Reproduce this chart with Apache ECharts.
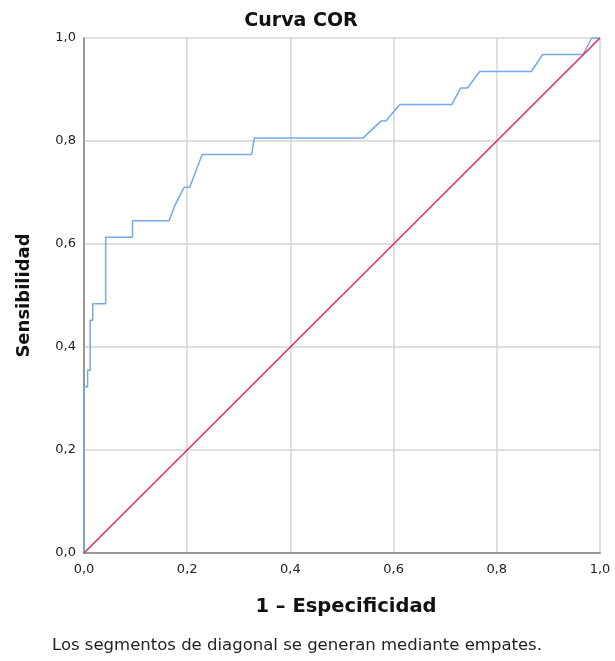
<!DOCTYPE html>
<html>
<head>
<meta charset="utf-8">
<script src="https://cdn.jsdelivr.net/npm/echarts@6/dist/echarts.min.js"></script>
<style>
  html, body { margin: 0; padding: 0; background: #fff; }
  #chart { width: 615px; height: 661px; }
</style>
</head>
<body>
<div id="chart"></div>
<script>
// 1 - especificidad (x) y sensibilidad (y)
var fpr = [0, 0, 0.007, 0.007, 0.012, 0.012, 0.017, 0.017, 0.042, 0.042, 0.094, 0.094,
  0.165, 0.177, 0.194, 0.205, 0.229, 0.325, 0.330, 0.541, 0.576, 0.585, 0.612, 0.713,
  0.730, 0.743, 0.767, 0.867, 0.889, 0.967, 0.984, 1]
var sens = [0, 0.323, 0.323, 0.355, 0.355, 0.452, 0.452, 0.484, 0.484, 0.613, 0.613, 0.645,
  0.645, 0.677, 0.710, 0.710, 0.774, 0.774, 0.806, 0.806, 0.839, 0.839, 0.871, 0.871,
  0.903, 0.903, 0.935, 0.935, 0.968, 0.968, 1, 1]
var diagonal = [[0, 0], [1, 1]]
var ticks = [0, 0.2, 0.4, 0.6, 0.8, 1]

var curve = fpr.map(function (x, i) { return [x, sens[i]] })
var fmt = function (v) { return v.toFixed(1).replace('.', ',') }

var myChart = echarts.init(document.getElementById('chart'))
myChart.setOption({
  animation: false,
  textStyle: { fontFamily: 'DejaVu Sans' },
  title: [
    {
      text: 'Curva COR',
      left: 296, top: 7, textAlign: 'center',
      textStyle: { fontSize: 19, fontWeight: 'bold', color: '#111' }
    },
    {
      text: 'Los segmentos de diagonal se generan mediante empates.',
      left: 47, top: 632,
      textStyle: { fontSize: 16.5, fontWeight: 'normal', color: '#222' }
    }
  ],
  grid: { left: 84, right: 15, top: 38, bottom: 108 },
  xAxis: {
    type: 'value', min: 0, max: 1, interval: 0.2,
    name: '1 – Especificidad', nameLocation: 'middle', nameGap: 44,
    nameTextStyle: { fontSize: 19.5, fontWeight: 'bold', color: '#111', padding: [0, 0, 0, 8] },
    axisLine: { lineStyle: { color: '#999', width: 2 } },
    axisTick: { show: false },
    axisLabel: { formatter: fmt, color: '#222', fontSize: 13, margin: 10 },
    splitLine: { lineStyle: { color: '#d4d4d4', width: 1.5 } }
  },
  yAxis: {
    type: 'value', min: 0, max: 1, interval: 0.2,
    name: 'Sensibilidad', nameLocation: 'middle', nameGap: 51,
    nameTextStyle: { fontSize: 18, fontWeight: 'bold', color: '#111' },
    axisLine: { show: true, lineStyle: { color: '#999', width: 2 } },
    axisTick: { show: false },
    axisLabel: { formatter: fmt, color: '#222', fontSize: 13, margin: 8 },
    splitLine: { lineStyle: { color: '#d4d4d4', width: 1.5 } }
  },
  series: [
    {
      type: 'line', data: curve, symbol: 'none',
      lineStyle: { color: '#74a9ea', width: 1.5 }
    },
    {
      type: 'line', data: diagonal, symbol: 'none',
      lineStyle: { color: '#e3295a', width: 1.5 }
    }
  ]
})
</script>
</body>
</html>
